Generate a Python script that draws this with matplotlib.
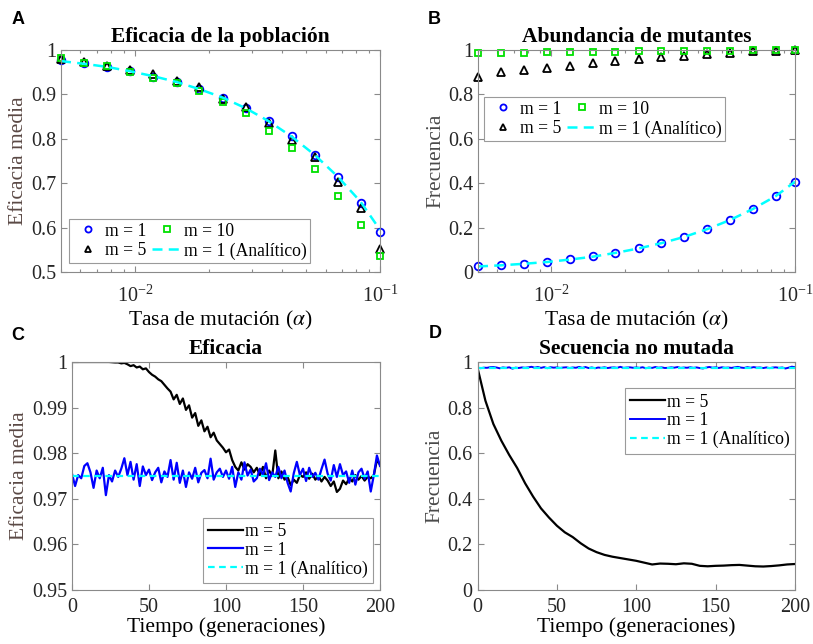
import matplotlib
matplotlib.use("Agg")
import matplotlib.pyplot as plt
from matplotlib.ticker import FixedLocator, FormatStrFormatter, NullFormatter

plt.rcParams['font.family'] = ['Liberation Serif', 'DejaVu Serif']
plt.rcParams['mathtext.fontset'] = 'stix'

# ---------------- data ----------------
alpha = [0.005, 0.0062, 0.0077, 0.0096, 0.0119, 0.0148, 0.0183, 0.0228,
         0.0283, 0.0351, 0.0436, 0.0541, 0.0672, 0.0834, 0.1]

fit_m1 = [0.977, 0.971, 0.962, 0.953, 0.940, 0.929, 0.913, 0.892,
          0.870, 0.841, 0.806, 0.764, 0.713, 0.656, 0.590]
fit_m5 = [0.980, 0.972, 0.963, 0.956, 0.945, 0.930, 0.916, 0.889,
          0.871, 0.836, 0.798, 0.758, 0.702, 0.645, 0.551]
fit_m10 = [0.983, 0.971, 0.963, 0.951, 0.938, 0.926, 0.908, 0.883,
           0.859, 0.817, 0.780, 0.731, 0.671, 0.605, 0.536]
fit_an = [0.975, 0.969, 0.962, 0.952, 0.941, 0.928, 0.912, 0.893,
          0.869, 0.840, 0.805, 0.764, 0.715, 0.658, 0.595]

mut_m1 = [0.026, 0.030, 0.038, 0.045, 0.057, 0.071, 0.086, 0.108,
          0.131, 0.158, 0.193, 0.236, 0.286, 0.343, 0.406]
mut_m5 = [0.880, 0.899, 0.910, 0.920, 0.928, 0.940, 0.952, 0.959,
          0.967, 0.974, 0.980, 0.988, 0.995, 0.997, 0.999]
mut_m10 = [0.985, 0.987, 0.988, 0.990, 0.991, 0.992, 0.993, 0.994,
           0.995, 0.996, 0.997, 0.997, 0.998, 0.998, 0.999]
mut_an = [0.025, 0.030, 0.037, 0.045, 0.056, 0.069, 0.086, 0.106,
          0.130, 0.158, 0.193, 0.234, 0.284, 0.342, 0.407]

gen = list(range(0, 201, 2))
eff_m1 = [0.9755, 0.9728, 0.9752, 0.9745, 0.9772, 0.9778, 0.9758, 0.9724, 0.9762, 0.9745,
          0.9768, 0.9708, 0.9752, 0.9738, 0.9762, 0.9748, 0.9766, 0.9789, 0.9752, 0.9781,
          0.9742, 0.9776, 0.9728, 0.9771, 0.9752, 0.9764, 0.9741, 0.9758, 0.9768, 0.9736,
          0.9760, 0.9748, 0.9785, 0.9742, 0.9779, 0.9735, 0.9762, 0.9726, 0.9758, 0.9744,
          0.9768, 0.9736, 0.9757, 0.9763, 0.9745, 0.9788, 0.9742, 0.9758, 0.9766, 0.9748,
          0.9762, 0.9744, 0.9770, 0.9726, 0.9758, 0.9742, 0.9780, 0.9751, 0.9764, 0.9738,
          0.9745, 0.9766, 0.9752, 0.9778, 0.9741, 0.9758, 0.9748, 0.9770, 0.9745, 0.9762,
          0.9735, 0.9716, 0.9756, 0.9781, 0.9752, 0.9766, 0.9739, 0.9768, 0.9748, 0.9757,
          0.9742, 0.9765, 0.9786, 0.9755, 0.9740, 0.9774, 0.9748, 0.9776, 0.9752, 0.9760,
          0.9735, 0.9762, 0.9731, 0.9758, 0.9766, 0.9744, 0.9760, 0.9716, 0.9752, 0.9795,
          0.9772]
eff_m5 = [1.0000, 1.0000, 1.0000, 1.0000, 1.0000, 1.0000, 1.0000, 1.0000, 1.0000, 1.0000,
          1.0000, 1.0000, 1.0000, 0.99995, 0.9999, 0.9999, 0.9997, 0.9998, 0.9995, 0.9991,
          0.9993, 0.9988, 0.9990, 0.9984, 0.9986, 0.9978, 0.9972, 0.9968, 0.9962, 0.9958,
          0.9950, 0.9942, 0.9935, 0.9918, 0.9928, 0.9908, 0.9920, 0.9895, 0.9905, 0.9878,
          0.9888, 0.9860, 0.9872, 0.9848, 0.9858, 0.9835, 0.9845, 0.9828, 0.9820, 0.9812,
          0.9802, 0.9808, 0.9785, 0.9770, 0.9762, 0.9780, 0.9764, 0.9776, 0.9770, 0.9758,
          0.9768, 0.9752, 0.9770, 0.9745, 0.9762, 0.9750, 0.9806, 0.9745, 0.9760, 0.9742,
          0.9748, 0.9730, 0.9742, 0.9735, 0.9752, 0.9748, 0.9758, 0.9744, 0.9755, 0.9742,
          0.9750, 0.9738, 0.9748, 0.9740, 0.9728, 0.9738, 0.9715, 0.9722, 0.9740, 0.9732,
          0.9745, 0.9738, 0.9752, 0.9742, 0.9750, 0.9740, 0.9748, 0.9745, 0.9752, 0.9785,
          0.9775]
eff_an = [0.975, 0.975]
t_an = [0, 200]

gen_d = list(range(0, 201, 5))
seq_m5 = [0.975, 0.830, 0.728, 0.655, 0.592, 0.535, 0.468, 0.410, 0.358, 0.318,
          0.282, 0.253, 0.232, 0.205, 0.182, 0.166, 0.154, 0.146, 0.140, 0.134,
          0.128, 0.120, 0.112, 0.116, 0.115, 0.113, 0.117, 0.115, 0.106, 0.104,
          0.106, 0.107, 0.109, 0.110, 0.107, 0.104, 0.103, 0.105, 0.108, 0.112,
          0.114]
seq_m1 = eff_m1
seq_an = [0.975, 0.975]

# ---------------- style ----------------
W, H = 813, 644
fig = plt.figure(figsize=(W / 100, H / 100), dpi=100)

def ax_at(l, t, r, b):
    return fig.add_axes([l / W, 1 - b / H, (r - l) / W, (b - t) / H])

SPINE = '#8a8a8a'
TICKC = '#262626'
BLUE = '#0000ff'
GREEN = '#00e000'
CYAN = '#00ffff'

def style(ax, xpad=3.5):
    for s in ax.spines.values():
        s.set_color(SPINE)
        s.set_linewidth(0.8)
    ax.tick_params(which='both', direction='in', top=True, right=True,
                   colors=SPINE, labelcolor=TICKC, labelsize=14.5, width=0.8)
    ax.tick_params(which='major', length=4)
    ax.tick_params(which='minor', length=2.5)
    ax.tick_params(axis='x', which='both', pad=xpad)

def leg_style(leg):
    fr = leg.get_frame()
    fr.set_edgecolor('#9a9a9a')
    fr.set_linewidth(0.8)
    fr.set_boxstyle('square', pad=0)

axA = ax_at(61, 50, 380, 272)
axB = ax_at(478, 50, 795, 272)
axC = ax_at(72, 362, 380, 590)
axD = ax_at(477.5, 362, 795, 590)

mk = dict(linestyle='none', markerfacecolor='none', markeredgewidth=1.3,
          markersize=5.5, clip_on=False)
leg2 = dict(ncol=2, borderaxespad=0, fontsize=12.7, handlelength=1.76,
            handletextpad=0.08, columnspacing=0.3, labelspacing=0.15,
            borderpad=0.2, fancybox=False, framealpha=1, numpoints=1,
            markerscale=0.8)
leg3 = dict(borderaxespad=0, fontsize=12.7, handlelength=2.0,
            handletextpad=0.1, labelspacing=0.1, borderpad=0.3,
            fancybox=False, framealpha=1)

# ---------------- A ----------------
hA1, = axA.plot(alpha, fit_m1, marker='o', color=BLUE, label='m = 1', **mk)
hA5, = axA.plot(alpha, fit_m5, marker='^', color='black', label='m = 5', **mk)
hA10, = axA.plot(alpha, fit_m10, marker='s', color=GREEN, label='m = 10',
                 **{**mk, 'markersize': 4.8})
hAa, = axA.plot(alpha, fit_an, '--', color=CYAN, lw=1.8, dashes=(4, 2.5),
                label='m = 1 (Analítico)')
axA.set_xscale('log')
axA.set_xlim(0.005, 0.1)
axA.set_ylim(0.5, 1.0)
axA.yaxis.set_major_locator(FixedLocator([0.5, 0.6, 0.7, 0.8, 0.9, 1.0]))
axA.yaxis.set_major_formatter(FormatStrFormatter('%g'))
axA.xaxis.set_minor_formatter(NullFormatter())
style(axA, xpad=10)
axA.set_title('Eficacia de la población', fontsize=15.5, fontweight='bold', pad=6)
axA.set_xlabel(r'Tasa de mutación ($\alpha$)', fontsize=15.5, labelpad=1)
axA.set_ylabel('Eficacia media', fontsize=15.5, color='#5a4844', labelpad=2)
legA = axA.legend(handles=[hA1, hA5, hA10, hAa], loc='lower left',
                  bbox_to_anchor=(0.025, 0.04), **leg2)
leg_style(legA)

# ---------------- B ----------------
hB1, = axB.plot(alpha, mut_m1, marker='o', color=BLUE, label='m = 1', **mk)
hB5, = axB.plot(alpha, mut_m5, marker='^', color='black', label='m = 5', **mk)
hB10, = axB.plot(alpha, mut_m10, marker='s', color=GREEN, label='m = 10',
                 **{**mk, 'markersize': 4.8})
hBa, = axB.plot(alpha, mut_an, '--', color=CYAN, lw=1.8, dashes=(4, 2.5),
                label='m = 1 (Analítico)')
axB.set_xscale('log')
axB.set_xlim(0.005, 0.1)
axB.set_ylim(0, 1.0)
axB.yaxis.set_major_locator(FixedLocator([0, 0.2, 0.4, 0.6, 0.8, 1.0]))
axB.yaxis.set_major_formatter(FormatStrFormatter('%g'))
axB.xaxis.set_minor_formatter(NullFormatter())
style(axB, xpad=10)
axB.set_title('Abundancia de mutantes', fontsize=15.5, fontweight='bold', pad=6)
axB.set_xlabel(r'Tasa de mutación ($\alpha$)', fontsize=15.5, labelpad=1)
axB.set_ylabel('Frecuencia', fontsize=15.5, color='#4a4a4a', labelpad=2)
legB = axB.legend(handles=[hB1, hB5, hB10, hBa], loc='upper left',
                  bbox_to_anchor=(0.019, 0.788), **leg2)
leg_style(legB)

# ---------------- C ----------------
hC5, = axC.plot(gen, eff_m5, color='black', lw=1.6, label='m = 5')
hC1, = axC.plot(gen, eff_m1, color=BLUE, lw=1.6, label='m = 1')
hCa, = axC.plot(t_an, eff_an, '--', color=CYAN, lw=1.6, dashes=(3, 2),
                label='m = 1 (Analítico)')
axC.set_xlim(0, 200)
axC.set_ylim(0.95, 1.0)
axC.xaxis.set_major_locator(FixedLocator([0, 50, 100, 150, 200]))
axC.yaxis.set_major_locator(FixedLocator([0.95, 0.96, 0.97, 0.98, 0.99, 1.0]))
axC.yaxis.set_major_formatter(FormatStrFormatter('%g'))
style(axC, xpad=6)
axC.set_title('Eficacia', fontsize=15.5, fontweight='bold', pad=6)
axC.set_xlabel('Tiempo (generaciones)', fontsize=15.5, labelpad=0)
axC.set_ylabel('Eficacia media', fontsize=15.5, color='#5a4844', labelpad=2)
legC = axC.legend(handles=[hC5, hC1, hCa], loc='lower right',
                  bbox_to_anchor=(0.977, 0.031), **leg3)
leg_style(legC)

# ---------------- D ----------------
hD5, = axD.plot(gen_d, seq_m5, color='black', lw=1.6, label='m = 5')
hD1, = axD.plot(gen, seq_m1, color=BLUE, lw=1.4, label='m = 1')
hDa, = axD.plot(t_an, seq_an, '--', color=CYAN, lw=1.6, dashes=(3, 2),
                label='m = 1 (Analítico)')
axD.set_xlim(0, 200)
axD.set_ylim(0, 1.0)
axD.xaxis.set_major_locator(FixedLocator([0, 50, 100, 150, 200]))
axD.yaxis.set_major_locator(FixedLocator([0, 0.2, 0.4, 0.6, 0.8, 1.0]))
axD.yaxis.set_major_formatter(FormatStrFormatter('%g'))
style(axD, xpad=6)
axD.set_title('Secuencia no mutada', fontsize=15.5, fontweight='bold', pad=6)
axD.set_xlabel('Tiempo (generaciones)', fontsize=15.5, labelpad=0)
axD.set_ylabel('Frecuencia', fontsize=15.5, color='#4a4a4a', labelpad=2)
legD = axD.legend(handles=[hD5, hD1, hDa], loc='upper right',
                  bbox_to_anchor=(1.0, 0.885), **leg3)
leg_style(legD)

# ---------------- panel letters ----------------
for letter, x, y in [('A', 18, 20), ('B', 434, 20), ('C', 18, 335), ('D', 435, 334)]:
    fig.text(x / W, 1 - y / H, letter, fontsize=13, fontweight='bold',
             family=['Liberation Sans', 'DejaVu Sans'], ha='center', va='center')

fig.savefig('out.png', dpi=100)
